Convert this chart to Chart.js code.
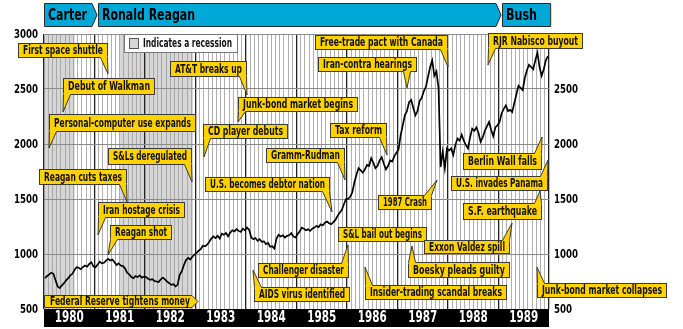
<!DOCTYPE html>
<html>
<head>
<meta charset="utf-8">
<script src="https://cdn.jsdelivr.net/npm/chart.js@4.4.0/dist/chart.umd.min.js"></script>
<style>
  html, body { margin: 0; padding: 0; background: #fff; }
</style>
</head>
<body>
<canvas id="chart" width="683" height="329"></canvas>
<script>
// Dow Jones industrial average, twice a month, 1980-1989
var years = ["1980", "1981", "1982", "1983", "1984", "1985", "1986", "1987", "1988", "1989"];
var dow1980 = [780, 800, 815, 830, 820, 760, 705, 690, 715, 735, 760, 780, 805, 820, 855, 880, 875, 862, 880, 895, 885, 910, 925, 885];
var dow1981 = [880, 905, 930, 915, 920, 940, 955, 940, 950, 925, 900, 915, 895, 890, 870, 830, 815, 790, 780, 800, 790, 805, 785, 795];
var dow1982 = [790, 775, 765, 770, 755, 750, 745, 770, 785, 770, 750, 735, 720, 725, 705, 720, 810, 845, 900, 945, 965, 950, 975, 995];
var dow1983 = [1010, 1030, 1045, 1075, 1070, 1085, 1110, 1140, 1160, 1145, 1165, 1140, 1185, 1175, 1190, 1160, 1195, 1215, 1205, 1225, 1210, 1200, 1230, 1215];
var dow1984 = [1240, 1220, 1150, 1135, 1145, 1120, 1135, 1110, 1115, 1090, 1100, 1065, 1070, 1050, 1140, 1175, 1160, 1170, 1150, 1165, 1170, 1190, 1160, 1150];
var dow1985 = [1180, 1205, 1240, 1230, 1215, 1225, 1210, 1230, 1240, 1255, 1245, 1270, 1260, 1285, 1295, 1280, 1270, 1290, 1310, 1345, 1375, 1400, 1450, 1500];
var dow1986 = [1500, 1520, 1560, 1650, 1720, 1780, 1760, 1740, 1770, 1810, 1800, 1870, 1830, 1780, 1800, 1850, 1880, 1820, 1770, 1800, 1850, 1840, 1890, 1920];
var dow1987 = [1950, 2080, 2170, 2260, 2300, 2380, 2400, 2330, 2260, 2300, 2390, 2420, 2480, 2520, 2610, 2700, 2760, 2620, 2660, 2510, 1790, 1930, 1780, 1960];
var dow1988 = [1940, 1960, 1900, 1990, 2050, 2030, 2085, 2030, 1990, 1960, 2060, 2140, 2120, 2150, 2100, 2020, 2060, 2120, 2160, 2200, 2130, 2070, 2150, 2170];
var dow1989 = [2200, 2280, 2320, 2350, 2300, 2310, 2290, 2370, 2450, 2530, 2510, 2490, 2600, 2670, 2720, 2700, 2680, 2760, 2830, 2700, 2620, 2680, 2760, 2800];
var dowByYear = [dow1980, dow1981, dow1982, dow1983, dow1984, dow1985, dow1986, dow1987, dow1988, dow1989];

// recessions, in months from January 1980
var recessionStart = [0, 18];
var recessionEnd = [7.3, 35.4];

// presidents, in months from January 1980
var presidents = ["Carter", "Ronald Reagan", "Bush"];
var termStart = [0, 12.6, 108.6];
var termEnd = [12.6, 108.6, 120.4];

var yTicks = [500, 1000, 1500, 2000, 2500, 3000];

var points = [];
dowByYear.forEach(function (vals, yi) {
  vals.forEach(function (v, i) {
    points.push({ x: yi * 12 + i * 0.5 + 0.25, y: v });
  });
});

// callouts: box in pixels, tip in pixels
var callouts = [
  { t: "First space shuttle", x: 18, y: 43, w: 90, h: 15, tx: 108, ty: 74 },
  { t: "Debut of Walkman", x: 63, y: 78, w: 92, h: 17, tx: 63, ty: 112 },
  { t: "Personal-computer use expands", x: 49, y: 114, w: 147, h: 18, tx: 49, ty: 148 },
  { t: "AT&T breaks up", x: 170, y: 61, w: 77, h: 16, tx: 247, ty: 95 },
  { t: "Junk-bond market begins", x: 238, y: 97, w: 120, h: 15, tx: 238, ty: 122 },
  { t: "CD player debuts", x: 203, y: 124, w: 85, h: 15, tx: 204, ty: 157 },
  { t: "Free-trade pact with Canada", x: 315, y: 35, w: 133, h: 15, tx: 448, ty: 67 },
  { t: "Iran-contra hearings", x: 318, y: 57, w: 99, h: 15, tx: 407, ty: 88 },
  { t: "RJR Nabisco buyout", x: 488, y: 33, w: 95, h: 16, tx: 488, ty: 65 },
  { t: "Tax reform", x: 330, y: 123, w: 57, h: 15, tx: 387, ty: 155 },
  { t: "Gramm-Rudman", x: 266, y: 148, w: 79, h: 15, tx: 345, ty: 180 },
  { t: "S&Ls deregulated", x: 108, y: 148, w: 84, h: 17, tx: 192, ty: 182 },
  { t: "Reagan cuts taxes", x: 39, y: 169, w: 88, h: 16, tx: 127, ty: 202 },
  { t: "U.S. becomes debtor nation", x: 205, y: 177, w: 125, h: 15, tx: 332, ty: 212 },
  { t: "Iran hostage crisis", x: 98, y: 202, w: 87, h: 16, tx: 98, ty: 235 },
  { t: "Reagan shot", x: 110, y: 225, w: 62, h: 15, tx: 108, ty: 255 },
  { t: "Challenger disaster", x: 258, y: 263, w: 91, h: 15, tx: 348, ty: 245 },
  { t: "AIDS virus identified", x: 254, y: 287, w: 96, h: 15, tx: 253, ty: 270 },
  { t: "S&L bail out begins", x: 338, y: 227, w: 89, h: 15 },
  { t: "1987 Crash", x: 378, y: 195, w: 54, h: 15, tx: 437, ty: 180 },
  { t: "Exxon Valdez spill", x: 424, y: 240, w: 86, h: 14, tx: 512, ty: 223 },
  { t: "Boesky pleads guilty", x: 408, y: 262, w: 102, h: 16, tx: 412, ty: 246 },
  { t: "Insider-trading scandal breaks", x: 365, y: 285, w: 142, h: 15, tx: 365, ty: 267 },
  { t: "Berlin Wall falls", x: 463, y: 153, w: 79, h: 17, tx: 542, ty: 137 },
  { t: "U.S. invades Panama", x: 451, y: 176, w: 97, h: 15, tx: 548, ty: 160 },
  { t: "S.F. earthquake", x: 463, y: 203, w: 79, h: 17, tx: 540, ty: 191 },
  { t: "Junk-bond market collapses", x: 537, y: 283, w: 130, h: 15, tx: 537, ty: 267 }
];

var YELLOW = "#ffd200";
var EDGE = "#3a3a3a";
var NARROW = "'Liberation Sans Narrow', 'DejaVu Sans Condensed', 'Liberation Sans', sans-serif";

function fitText(ctx, text, x, y, w) {
  var m = ctx.measureText(text).width;
  var sx = w / m;
  ctx.save();
  ctx.translate(x, y);
  ctx.scale(sx, 1);
  ctx.fillText(text, 0, 0);
  ctx.restore();
}

function drawCallout(ctx, c) {
  ctx.fillStyle = YELLOW;
  ctx.strokeStyle = EDGE;
  ctx.lineWidth = 1;
  ctx.fillRect(c.x, c.y, c.w, c.h);
  ctx.strokeRect(c.x + 0.5, c.y + 0.5, c.w - 1, c.h - 1);
  if (c.tx !== undefined) {
    var bw = 7, b1, b2;
    if (c.tx >= c.x + c.w - 4) { b2 = c.x + c.w - 0.5; b1 = b2 - bw; }
    else if (c.tx <= c.x + 4) { b1 = c.x + 0.5; b2 = b1 + bw; }
    else { b1 = c.tx - bw / 2; b2 = c.tx + bw / 2; }
    var down = c.ty > c.y + c.h;
    var by = down ? c.y + c.h - 0.5 : c.y + 0.5;
    var inset = down ? -1.5 : 1.5;
    ctx.beginPath();
    ctx.moveTo(b1, by + inset);
    ctx.lineTo(b1, by);
    ctx.lineTo(c.tx, c.ty);
    ctx.lineTo(b2, by);
    ctx.lineTo(b2, by + inset);
    ctx.closePath();
    ctx.fill();
    ctx.beginPath();
    ctx.moveTo(b1, by);
    ctx.lineTo(c.tx, c.ty);
    ctx.lineTo(b2, by);
    ctx.stroke();
  }
  ctx.fillStyle = "#111";
  ctx.font = "bold 12.5px " + NARROW;
  ctx.textBaseline = "middle";
  ctx.textAlign = "left";
  fitText(ctx, c.t, c.x + 5, c.y + c.h / 2 + 0.5, c.w - 10);
}

var decor = {
  id: "decor",
  beforeDraw: function (chart) {
    var ctx = chart.ctx, xs = chart.scales.x, area = chart.chartArea;
    ctx.save();
    ctx.fillStyle = "#fff";
    ctx.fillRect(0, 0, chart.width, chart.height);
    ctx.fillStyle = "#d6d6d6";
    for (var i = 0; i < recessionStart.length; i++) {
      var a = xs.getPixelForValue(recessionStart[i]);
      var b = xs.getPixelForValue(recessionEnd[i]);
      ctx.fillRect(a, area.top, b - a, area.bottom - area.top);
    }
    ctx.restore();
  },
  afterDraw: function (chart) {
    var ctx = chart.ctx, xs = chart.scales.x, ys = chart.scales.y, area = chart.chartArea;
    ctx.save();

    // year band
    ctx.fillStyle = "#000";
    ctx.fillRect(area.left, area.bottom, area.right - area.left, 18);
    ctx.fillStyle = "#fff";
    ctx.font = "bold 15px " + NARROW;
    ctx.textAlign = "left";
    ctx.textBaseline = "middle";
    years.forEach(function (y, i) {
      var cx = xs.getPixelForValue(i * 12 + 6);
      fitText(ctx, y, cx - 14.5, area.bottom + 9.5, 29);
    });

    // value labels on both sides
    ctx.fillStyle = "#000";
    ctx.font = "bold 13px " + NARROW;
    ys.ticks.forEach(function (t) {
      var py = ys.getPixelForValue(t.value);
      ctx.textAlign = "left";
      var label = String(t.value);
      var w = label.length === 4 ? 24 : 18;
      fitText(ctx, label, 38 - w, py + 1, w);
      if (t.value < 3000) {
        fitText(ctx, label, 554, py + 1, w);
      }
    });

    // presidents bar
    presidents.forEach(function (name, i) {
      var x0 = xs.getPixelForValue(termStart[i]) + (i > 0 ? 1 : 0);
      var x1 = xs.getPixelForValue(termEnd[i]);
      var top = 3.5, bot = 26.5, mid = (top + bot) / 2;
      ctx.beginPath();
      ctx.moveTo(x0 + 0.5, top);
      if (i < presidents.length - 1) {
        ctx.lineTo(x1 - 5, top);
        ctx.lineTo(x1, mid);
        ctx.lineTo(x1 - 5, bot);
      } else {
        ctx.lineTo(x1, top);
        ctx.lineTo(x1, bot);
      }
      ctx.lineTo(x0 + 0.5, bot);
      ctx.closePath();
      ctx.fillStyle = "#00a8d8";
      ctx.fill();
      ctx.strokeStyle = "#2a2a2a";
      ctx.lineWidth = 1;
      ctx.stroke();
      ctx.fillStyle = "#000";
      ctx.font = "bold 16px " + NARROW;
      ctx.textAlign = "left";
      ctx.textBaseline = "middle";
      var widths = [39, 93, 31];
      fitText(ctx, name, x0 + 4, mid + 1, widths[i]);
    });

    // recession key
    ctx.fillStyle = "#fff";
    ctx.fillRect(124, 34, 114, 19);
    ctx.strokeStyle = "#777";
    ctx.lineWidth = 1;
    ctx.strokeRect(124.5, 34.5, 113, 18);
    ctx.fillStyle = "#d6d6d6";
    ctx.fillRect(129, 38, 9, 10);
    ctx.strokeStyle = "#555";
    ctx.strokeRect(129.5, 38.5, 9, 10);
    ctx.fillStyle = "#111";
    ctx.font = "bold 12.5px " + NARROW;
    ctx.textAlign = "left";
    ctx.textBaseline = "middle";
    fitText(ctx, "Indicates a recession", 143, 44, 89);

    // callouts
    callouts.forEach(function (c) { drawCallout(ctx, c); });

    // Fed tag pointing right
    ctx.beginPath();
    ctx.moveTo(44.5, 295.5);
    ctx.lineTo(192, 295.5);
    ctx.lineTo(198, 301.5);
    ctx.lineTo(192, 307.5);
    ctx.lineTo(44.5, 307.5);
    ctx.closePath();
    ctx.fillStyle = YELLOW;
    ctx.fill();
    ctx.strokeStyle = EDGE;
    ctx.stroke();
    ctx.fillStyle = "#111";
    ctx.font = "bold 12.5px " + NARROW;
    fitText(ctx, "Federal Reserve tightens money", 50, 302, 140);

    ctx.restore();
  }
};

var ctx = document.getElementById("chart").getContext("2d");

var chart = new Chart(ctx, {
  type: "line",
  data: {
    datasets: [
      {
        label: "Dow Jones industrial average",
        data: points,
        borderColor: "#000",
        borderWidth: 1.7,
        pointRadius: 0,
        tension: 0
      }
    ]
  },
  options: {
    responsive: false,
    animation: false,
    events: [],
    layout: { padding: { left: 44, right: 134, top: 34, bottom: 20 } },
    plugins: { legend: { display: false }, tooltip: { enabled: false } },
    scales: {
      x: {
        type: "linear",
        min: 0,
        max: 120,
        border: { display: false },
        ticks: { display: false, stepSize: 1, maxTicksLimit: 200 },
        grid: {
          drawTicks: false,
          color: function (c) { return c.tick && c.tick.value % 12 === 0 ? "#222" : "#9c9c9c"; },
          lineWidth: function (c) { return c.tick && c.tick.value % 12 === 0 ? 1.3 : 0.8; }
        }
      },
      y: {
        min: 500,
        max: 3000,
        border: { display: false },
        afterBuildTicks: function (s) { s.ticks = yTicks.map(function (v) { return { value: v }; }); },
        ticks: { display: false },
        grid: { drawTicks: false, color: "#8a8a8a", lineWidth: 1 }
      }
    }
  },
  plugins: [decor]
});
</script>
</body>
</html>
